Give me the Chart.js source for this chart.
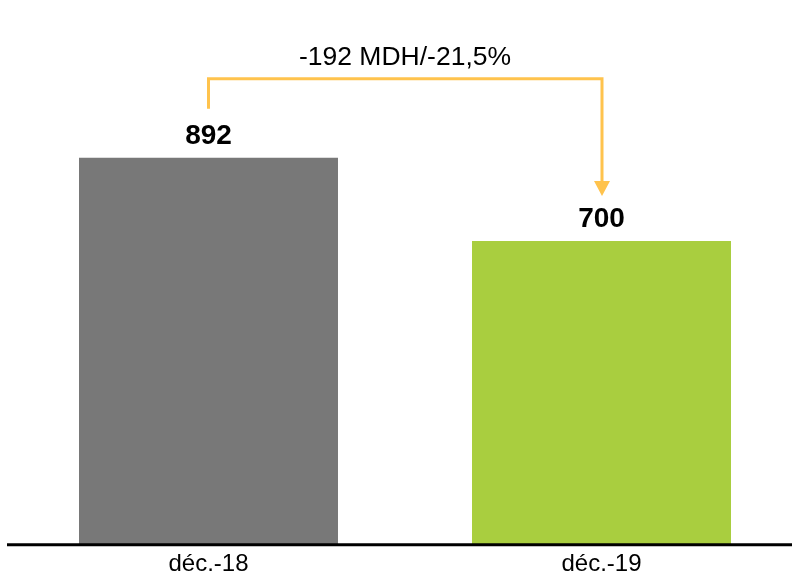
<!DOCTYPE html>
<html>
<head>
<meta charset="utf-8">
<script src="https://cdn.jsdelivr.net/npm/chart.js@4/dist/chart.umd.min.js"></script>
<style>
html,body{margin:0;padding:0;background:#fff;overflow:hidden;}
#wrap{width:792px;height:577px;position:relative;overflow:hidden;}
#c{position:absolute;left:0;top:0;}
</style>
</head>
<body>
<div id="wrap"><canvas id="c" width="798" height="577"></canvas></div>
<script>
const categories = ["déc.-18", "déc.-19"];
const values = [892, 700];
const barColors = ["#787878", "#A9CE3F"];
const variationLabel = "-192 MDH/-21,5%";

const FONT = "'Liberation Sans', Arial, Helvetica, sans-serif";

const overlay = {
  id: 'overlay',
  afterDatasetsDraw(chart) {
    const ctx = chart.ctx;
    const meta = chart.getDatasetMeta(0);
    ctx.save();
    // axis line
    ctx.strokeStyle = '#000';
    ctx.lineWidth = 3;
    ctx.beginPath();
    ctx.moveTo(7, chart.chartArea.bottom + 0.5);
    ctx.lineTo(chart.width, chart.chartArea.bottom + 0.5);
    ctx.stroke();
    // value labels
    ctx.fillStyle = '#000';
    ctx.font = "bold 28px " + FONT;
    ctx.textAlign = 'center';
    ctx.textBaseline = 'alphabetic';
    meta.data.forEach((el, i) => {
      ctx.fillText(String(values[i]), el.x, el.y - 14);
    });
    // arrow
    const a = meta.data[0], b = meta.data[1];
    const yTop = a.y - 79;
    const bx = b.x + 0.5;
    ctx.strokeStyle = '#FFC34D';
    ctx.fillStyle = '#FFC34D';
    ctx.lineWidth = 3;
    ctx.lineJoin = 'miter';
    ctx.beginPath();
    ctx.moveTo(a.x, a.y - 49);
    ctx.lineTo(a.x, yTop);
    ctx.lineTo(bx, yTop);
    ctx.lineTo(bx, b.y - 58);
    ctx.stroke();
    ctx.beginPath();
    ctx.moveTo(bx - 8, b.y - 60);
    ctx.lineTo(bx + 8, b.y - 60);
    ctx.lineTo(bx, b.y - 45);
    ctx.closePath();
    ctx.fill();
    // variation text
    ctx.fillStyle = '#000';
    ctx.font = "26.5px " + FONT;
    ctx.textAlign = 'center';
    ctx.fillText(variationLabel, (a.x + b.x) / 2, yTop - 14);
    ctx.restore();
  }
};

new Chart(document.getElementById('c'), {
  type: 'bar',
  data: {
    labels: categories,
    datasets: [{
      data: values,
      backgroundColor: barColors,
      borderWidth: 0,
      categoryPercentage: 1,
      barPercentage: 0.659
    }]
  },
  options: {
    responsive: false,
    animation: false,
    events: [],
    layout: { padding: { top: 111, left: 12, right: 0, bottom: -8 } },
    plugins: { legend: { display: false }, tooltip: { enabled: false } },
    scales: {
      x: {
        grid: { display: false, drawTicks: false },
        border: { display: false },
        ticks: { color: '#000', font: { family: FONT, size: 24 }, padding: 6 }
      },
      y: {
        display: false,
        min: 0,
        max: 1000
      }
    }
  },
  plugins: [overlay]
});
</script>
</body>
</html>
